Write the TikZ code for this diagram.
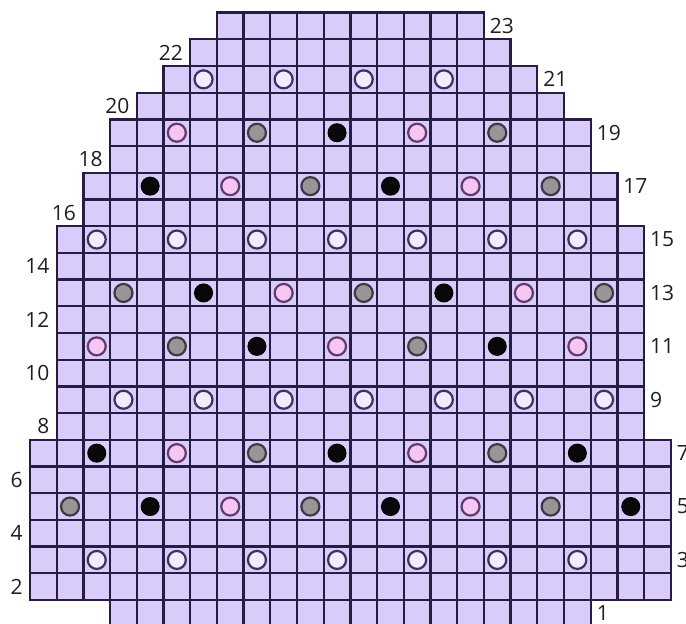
\documentclass[tikz,border=0pt]{standalone}
\usepackage{fontspec}
\setmainfont{Open Sans}
\definecolor{lav}{RGB}{216,204,250}
\definecolor{gridc}{RGB}{40,28,66}
\definecolor{wfill}{RGB}{240,236,252}
\definecolor{wline}{RGB}{66,48,98}
\definecolor{pfill}{RGB}{244,198,242}
\definecolor{pline}{RGB}{100,56,112}
\definecolor{gfill}{RGB}{150,150,152}
\definecolor{gline}{RGB}{64,56,66}
\definecolor{bfill}{RGB}{8,8,10}
\tikzset{
  cellfill/.style={fill=lav},
  cellline/.style={draw=gridc,line width=2.3pt},
  lab/.style={inner sep=0pt,font=\fontsize{21}{24}\selectfont,text=black!88},
  wbead/.style={fill=wfill,draw=wline,line width=2.2pt},
  pbead/.style={fill=pfill,draw=pline,line width=2.2pt},
  gbead/.style={fill=gfill,draw=gline,line width=2.2pt},
  bbead/.style={fill=bfill,draw=black,line width=1pt}
}
\begin{document}
\begin{tikzpicture}[x=26.7pt,y=26.7pt]
\useasboundingbox (0,0) rectangle (686pt,624pt);
\fill[white] (0,0) rectangle (686pt,624pt);
\begin{scope}[shift={(30pt,-2.7pt)}]
% cell fills
\foreach \r/\a in {1/3,2/0,3/0,4/0,5/0,6/0,7/0,8/1,9/1,10/1,11/1,12/1,13/1,14/1,15/1,16/2,17/2,18/3,19/3,20/4,21/5,22/6,23/7} {
  \pgfmathtruncatemacro\b{24-\a}
  \fill[cellfill] (\a,\r-1) rectangle (\b,\r);
}
% cell borders
\foreach \r/\a in {1/3,2/0,3/0,4/0,5/0,6/0,7/0,8/1,9/1,10/1,11/1,12/1,13/1,14/1,15/1,16/2,17/2,18/3,19/3,20/4,21/5,22/6,23/7} {
  \pgfmathtruncatemacro\b{23-\a}
  \foreach \c in {\a,...,\b} {
    \draw[cellline] (\c,\r-1) rectangle ++(1,1);
  }
}
% row labels
\foreach \r/\a in {1/3,3/0,5/0,7/0,9/1,11/1,13/1,15/1,17/2,19/3,21/5,23/7} {
  \node[lab,anchor=west] (lab\r) at ({24-\a+0.22},\r-0.5) {\r};
}
\foreach \r/\a in {2/0,4/0,6/0,8/1,10/1,12/1,14/1,16/2,18/3,20/4,22/6} {
  \node[lab,anchor=east] (lab\r) at ({\a-0.27},\r-0.5) {\r};
}
% beads
\def\rad{9pt}
\foreach \r/\c/\t in {
  21/6/w,21/9/w,21/12/w,21/15/w,
  19/5/p,19/8/g,19/11/b,19/14/p,19/17/g,
  17/4/b,17/7/p,17/10/g,17/13/b,17/16/p,17/19/g,
  15/2/w,15/5/w,15/8/w,15/11/w,15/14/w,15/17/w,15/20/w,
  13/3/g,13/6/b,13/9/p,13/12/g,13/15/b,13/18/p,13/21/g,
  11/2/p,11/5/g,11/8/b,11/11/p,11/14/g,11/17/b,11/20/p,
  9/3/w,9/6/w,9/9/w,9/12/w,9/15/w,9/18/w,9/21/w,
  7/2/b,7/5/p,7/8/g,7/11/b,7/14/p,7/17/g,7/20/b,
  5/1/g,5/4/b,5/7/p,5/10/g,5/13/b,5/16/p,5/19/g,5/22/b,
  3/2/w,3/5/w,3/8/w,3/11/w,3/14/w,3/17/w,3/20/w} {
  \path[\t bead] (\c+0.5,\r-0.5) circle[radius=\rad];
}
\end{scope}
\end{tikzpicture}
\end{document}
